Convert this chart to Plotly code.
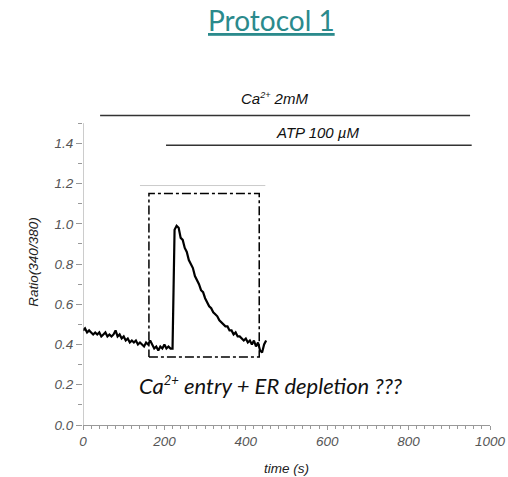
import plotly.graph_objects as go

# ---- data ----
time_s = list(range(0, 455, 5))
ratio = [0.47, 0.48, 0.46, 0.47, 0.46, 0.45, 0.46, 0.45, 0.46, 0.44,
         0.45, 0.46, 0.44, 0.45, 0.44, 0.45, 0.47, 0.44, 0.45, 0.43,
         0.44, 0.42, 0.43, 0.41, 0.42, 0.41, 0.42, 0.40, 0.41, 0.40,
         0.39, 0.41, 0.40, 0.42, 0.40, 0.38, 0.39, 0.37, 0.39, 0.38,
         0.40, 0.38, 0.39, 0.38, 0.38, 0.97, 0.99, 0.98, 0.93, 0.92,
         0.88, 0.86, 0.82, 0.80, 0.78, 0.74, 0.72, 0.70, 0.67, 0.66,
         0.63, 0.61, 0.59, 0.58, 0.56, 0.55, 0.54, 0.52, 0.51, 0.50,
         0.49, 0.49, 0.47, 0.47, 0.45, 0.46, 0.44, 0.44, 0.43, 0.42,
         0.43, 0.41, 0.42, 0.40, 0.42, 0.39, 0.41, 0.37, 0.36, 0.40,
         0.42]

ca_bar_x = [42, 951]
ca_bar_y = 1.538
atp_bar_x = [204, 955]
atp_bar_y = 1.39
gray_line_x = [140, 448]
gray_line_y = 1.19
box_x = [162, 433]
box_y = [0.338, 1.15]

x_ticks = [0, 200, 400, 600, 800, 1000]
y_ticks = [0.0, 0.2, 0.4, 0.6, 0.8, 1.0, 1.2, 1.4]
y_ticklabels = ["0.0", "0.2", "0.4", "0.6", "0.8", "1.0", "1.2", "1.4"]
y_minor = [round(0.1 * i, 1) for i in range(16)]

Y_TOP = 1.62
PLOT_TOP_PX = 99
PLOT_BOT_PX = 425
PLOT_H = PLOT_BOT_PX - PLOT_TOP_PX


def paper_y(px):
    return (PLOT_BOT_PX - px) / PLOT_H


fig = go.Figure()

fig.add_trace(go.Scatter(x=time_s, y=ratio, mode="lines",
                         line=dict(color="black", width=2.2), showlegend=False))
fig.add_trace(go.Scatter(x=[box_x[0], box_x[1], box_x[1], box_x[0], box_x[0]],
                         y=[box_y[0], box_y[0], box_y[1], box_y[1], box_y[0]],
                         mode="lines", line=dict(color="black", width=1.5, dash="dashdot"),
                         showlegend=False))
fig.add_trace(go.Scatter(x=gray_line_x, y=[gray_line_y] * 2, mode="lines",
                         line=dict(color="#cccccc", width=1), showlegend=False))
fig.add_trace(go.Scatter(x=ca_bar_x, y=[ca_bar_y] * 2, mode="lines",
                         line=dict(color="#333333", width=1.5), showlegend=False))
fig.add_trace(go.Scatter(x=atp_bar_x, y=[atp_bar_y] * 2, mode="lines",
                         line=dict(color="#333333", width=1.5), showlegend=False))

# y-axis line (only up to 1.5)
fig.add_shape(type="line", xref="x", yref="y", x0=0, x1=0, y0=0, y1=1.5,
              line=dict(color="#999999", width=1))

tickfont = dict(family="Liberation Sans, Arial", size=13.5, color="#555555", style="italic")
titlefont = dict(family="Liberation Sans, Arial", size=13.5, color="#222222", style="italic")

fig.update_layout(
    width=508, height=477,
    margin=dict(l=83, r=18, t=PLOT_TOP_PX, b=477 - PLOT_BOT_PX, autoexpand=False),
    plot_bgcolor="white", paper_bgcolor="white",
    xaxis=dict(range=[0, 1000], tickvals=x_ticks, showgrid=False, zeroline=False,
               showline=True, linecolor="#999999", linewidth=1,
               ticks="outside", ticklen=4, tickcolor="#999999",
               minor=dict(dtick=20, ticks="outside", ticklen=3, tickcolor="#999999"),
               tickfont=tickfont, automargin=False,
               title=dict(text="time (s)", standoff=15, font=titlefont)),
    yaxis=dict(range=[0, Y_TOP], tickvals=y_ticks, ticktext=y_ticklabels,
               showgrid=False, zeroline=False, showline=False,
               ticks="outside", ticklen=6, tickcolor="#999999",
               minor=dict(tickvals=y_minor, ticks="outside", ticklen=4, tickcolor="#999999"),
               tickfont=tickfont, automargin=False,
               title=dict(text="Ratio(340/380)", standoff=12, font=titlefont)),
)

fig.add_annotation(x=(271 - 83) / 407.0, xref="paper", xanchor="center",
                   y=paper_y(20), yref="paper", yanchor="middle",
                   text="<u>Protocol 1</u>", showarrow=False,
                   font=dict(family="Lato, Noto Sans", size=28, color="#2b8a8c"))

fig.add_annotation(x=(274 - 83) / 407.0, xref="paper", y=paper_y(98), yref="paper",
                   text="Ca<sup><span style='font-size:9px'>2+</span></sup> 2mM",
                   showarrow=False, yanchor="middle",
                   font=dict(family="Liberation Sans, Arial", size=15, color="#111111",
                             style="italic"))
fig.add_annotation(x=(318 - 83) / 407.0, xref="paper", y=paper_y(132), yref="paper",
                   text="ATP 100 µM", showarrow=False, yanchor="middle",
                   font=dict(family="Liberation Sans, Arial", size=15, color="#111111",
                             style="italic"))
fig.add_annotation(x=(270 - 83) / 407.0, xref="paper", y=paper_y(385), yref="paper",
                   text="Ca<sup><span style='font-size:13px'>2+</span></sup> entry + ER depletion ???",
                   showarrow=False, yanchor="middle",
                   font=dict(family="Lato, Open Sans", size=22, color="#111111",
                             style="italic"))

fig.write_html("out.html", config={"displayModeBar": False},
               post_script="document.body.style.margin='0';")
